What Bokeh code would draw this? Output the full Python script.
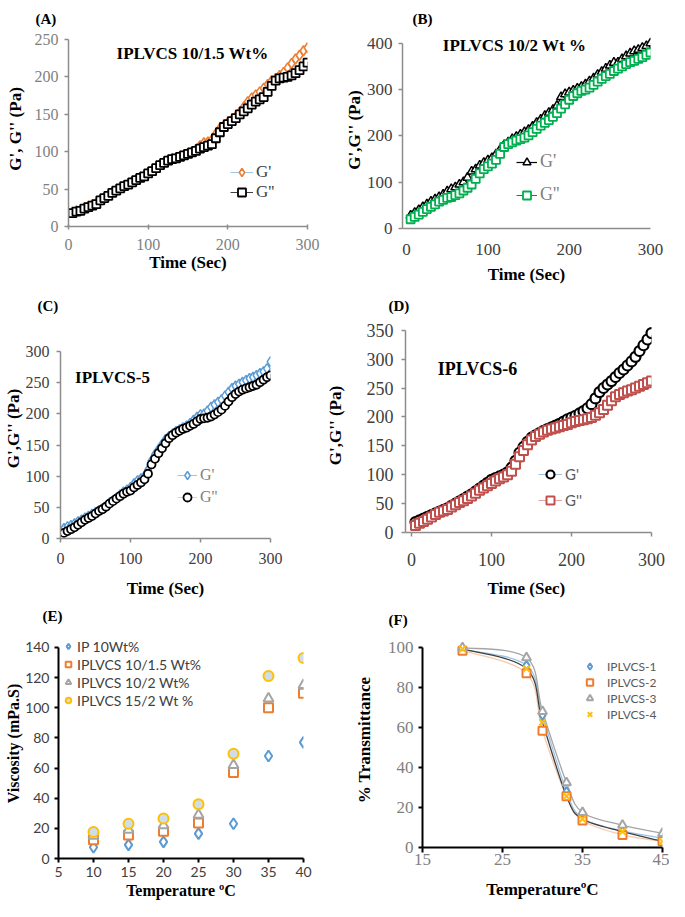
from bokeh.plotting import figure
from bokeh.models import Range1d, Label, Legend, LegendItem, FixedTicker
from bokeh.layouts import row, column
from bokeh.embed import file_html
from bokeh.resources import INLINE

SERIF = "Liberation Serif"
SANS = "Lato"

# ---------------- data ----------------
time_s = [5, 10, 15, 20, 25, 30, 35, 40, 45, 50, 55, 60, 65, 70, 75, 80, 85, 90, 95, 100,
          105, 110, 115, 120, 125, 130, 135, 140, 145, 150, 155, 160, 165, 170, 175, 180, 185, 190, 195, 200,
          205, 210, 215, 220, 225, 230, 235, 240, 245, 250, 255, 260, 265, 270, 275, 280, 285, 290, 295, 300]
time_ticks = [0, 100, 200, 300]

# (A) IPLVCS 10/1.5 Wt%
a_g1 = [19, 21, 22, 25, 27, 29, 31, 36, 39, 42, 46, 49, 52, 55, 57, 60, 63, 66, 68, 72,
        75, 79, 83, 86, 89, 91, 92, 94, 96, 98, 100, 103, 108, 112, 113, 116, 124, 131, 135, 139,
        142, 147, 153, 160, 167, 172, 176, 180, 185, 190, 195, 198, 202, 206, 212, 218, 224, 229, 235, 239]
a_g2 = [18, 20, 21, 24, 26, 28, 30, 35, 38, 41, 45, 48, 51, 54, 56, 59, 62, 65, 67, 71,
        74, 78, 82, 85, 88, 90, 91, 93, 95, 97, 99, 101, 104, 106, 108, 110, 118, 126, 133, 137,
        141, 145, 150, 154, 158, 163, 167, 170, 173, 180, 188, 195, 198, 199, 200, 202, 205, 209, 214, 219]
a_yticks = [0, 50, 100, 150, 200, 250]

# (B) IPLVCS 10/2 Wt %
b_g1 = [28, 34, 40, 46, 52, 58, 63, 68, 73, 80, 85, 89, 95, 100, 110, 123, 128, 136, 142, 147,
        152, 160, 170, 180, 186, 193, 198, 203, 208, 213, 220, 228, 235, 243, 250, 256, 265, 284, 290, 294,
        298, 302, 306, 311, 318, 324, 332, 338, 345, 352, 358, 358, 366, 372, 378, 383, 386, 390, 394, 400]
b_g2 = [20, 25, 30, 36, 42, 47, 52, 58, 62, 66, 68, 72, 76, 82, 88, 95, 107, 119, 128, 134,
        140, 148, 161, 176, 182, 186, 190, 193, 196, 201, 208, 215, 222, 228, 234, 241, 249, 259, 268, 278,
        286, 292, 297, 300, 304, 310, 317, 323, 329, 334, 340, 345, 350, 355, 359, 362, 366, 370, 375, 380]
b_yticks = [0, 100, 200, 300, 400]

# (C) IPLVCS-5
c_g1 = [16, 19, 21, 24, 27, 30, 33, 36, 39, 42, 45, 48, 52, 57, 61, 65, 70, 75, 78, 82,
        88, 93, 96, 100, 110, 125, 135, 143, 151, 159, 164, 168, 172, 175, 178, 181, 185, 190, 195, 199,
        200, 205, 211, 215, 219, 223, 229, 235, 241, 245, 248, 251, 254, 257, 259, 262, 265, 268, 273, 284]
c_g2 = [9, 12, 15, 18, 22, 26, 30, 33, 36, 40, 44, 47, 51, 56, 60, 64, 68, 72, 75, 77,
        82, 86, 90, 95, 104, 119, 128, 137, 145, 153, 161, 166, 170, 173, 176, 178, 181, 184, 188, 192,
        193, 194, 196, 199, 203, 207, 213, 220, 227, 232, 236, 239, 241, 243, 245, 247, 251, 255, 259, 262]
c_yticks = [0, 50, 100, 150, 200, 250, 300]

# (D) IPLVCS-6
d_g1 = [18, 21, 24, 27, 30, 33, 36, 39, 42, 46, 50, 54, 58, 62, 66, 71, 76, 81, 86, 91,
        94, 97, 100, 104, 112, 124, 138, 148, 157, 164, 168, 172, 176, 179, 182, 185, 188, 192, 196, 199,
        202, 206, 210, 215, 222, 232, 243, 250, 256, 262, 269, 276, 282, 289, 296, 304, 314, 324, 334, 345]
d_g2 = [12, 16, 19, 23, 27, 31, 35, 37, 40, 44, 48, 52, 55, 59, 63, 68, 73, 77, 81, 85,
        89, 93, 96, 100, 106, 118, 131, 142, 152, 160, 166, 170, 174, 177, 179, 181, 183, 185, 187, 190,
        192, 194, 195, 197, 199, 203, 207, 213, 220, 228, 235, 239, 242, 245, 247, 250, 253, 256, 259, 262]
d_yticks = [0, 50, 100, 150, 200, 250, 300, 350]

# (E) viscosity vs temperature
temp_e = [10, 15, 20, 25, 30, 35, 40]
visc_ip10 = [7.5, 9, 11, 16.5, 23, 68, 77]
visc_10_15 = [12.5, 15.5, 18, 23.5, 57, 100, 109.5]
visc_10_2 = [15, 19, 22, 29, 62, 106, 115]
visc_15_2 = [17.5, 23, 26.5, 36, 69.5, 121, 133]
e_xticks = [5, 10, 15, 20, 25, 30, 35, 40]
e_yticks = [0, 20, 40, 60, 80, 100, 120, 140]

# (F) transmittance vs temperature
temp_f = [20, 28, 30, 33, 35, 40, 45]
trans_1 = [99, 91, 66, 28, 14.6, 8.3, 4.7]
trans_2 = [98.3, 87, 58.3, 25.6, 13.5, 6.3, 3.1]
trans_3 = [99.8, 94.8, 68, 32.4, 17.5, 11.2, 7.1]
trans_4 = [99.2, 89.3, 62.6, 25.6, 14.2, 7.9, 3.1]
f_xticks = [15, 25, 35, 45]
f_yticks = [0, 20, 40, 60, 80, 100]


# ---------------- helpers ----------------
def make_panel(box, frame, xr, yr, tag, tag_offset, tag_standoff=10):
    x0, y0, x1, y1 = box
    l, t, r, b = frame
    p = figure(width=x1 - x0, height=y1 - y0, x_range=Range1d(*xr), y_range=Range1d(*yr),
               output_backend="svg", toolbar_location=None, title=tag,
               min_border_left=l - x0, min_border_right=x1 - r,
               min_border_top=t - y0, min_border_bottom=y1 - b)
    p.frame_align = False
    p.outline_line_color = None
    p.grid.visible = False
    p.background_fill_color = "white"
    p.border_fill_color = "white"
    p.title.text_font = SERIF
    p.title.text_font_size = "15px"
    p.title.text_font_style = "bold"
    p.title.text_color = "black"
    p.title.align = "left"
    p.title.offset = tag_offset
    p.title.standoff = tag_standoff

    def at(px, py):
        return (xr[0] + (px - l) / (r - l) * (xr[1] - xr[0]),
                yr[0] + (b - py) / (b - t) * (yr[1] - yr[0]))
    return p, at


def style_axis(ax, ticks, label, tick_font, tick_size, tick_color, axis_color, axis_width,
               label_size, tick_out, tick_label_standoff, label_standoff, tick_in=0, bounds=None):
    ax.ticker = FixedTicker(ticks=ticks)
    ax.axis_label = label
    ax.axis_label_text_font = SERIF
    ax.axis_label_text_font_style = "bold"
    ax.axis_label_text_font_size = label_size
    ax.axis_label_text_color = "black"
    ax.axis_label_standoff = label_standoff
    ax.major_label_text_font = tick_font
    ax.major_label_text_font_size = tick_size
    ax.major_label_text_color = tick_color
    ax.major_label_standoff = tick_label_standoff
    ax.axis_line_color = axis_color
    ax.axis_line_width = axis_width
    ax.major_tick_line_color = axis_color
    ax.major_tick_line_width = axis_width
    ax.major_tick_out = tick_out
    ax.major_tick_in = tick_in
    ax.minor_tick_line_color = None
    if bounds is not None:
        ax.bounds = bounds


def put_text(p, xy, text, size, color="black"):
    p.add_layout(Label(x=xy[0], y=xy[1], text=text, text_font=SERIF, text_font_size=size,
                       text_font_style="bold", text_align="center", text_baseline="middle",
                       text_color=color))


def add_legend(p, items, loc, font, size, color, glyph_w, item_h, spacing, standoff=3):
    leg = Legend(items=[LegendItem(label=lab, renderers=rs) for lab, rs in items],
                 location=loc, border_line_color=None, background_fill_alpha=0,
                 padding=0, margin=0, spacing=spacing, label_standoff=standoff,
                 glyph_width=glyph_w, glyph_height=item_h, label_height=item_h,
                 label_text_font=font, label_text_font_size=size, label_text_color=color)
    p.add_layout(leg)


def bezier_parts(xs, ys):
    n = len(xs)
    out = dict(x0=[], y0=[], x1=[], y1=[], cx0=[], cy0=[], cx1=[], cy1=[])
    for i in range(n - 1):
        xp, yp = (xs[i - 1], ys[i - 1]) if i > 0 else (xs[i], ys[i])
        xn, yn = (xs[i + 2], ys[i + 2]) if i + 2 < n else (xs[i + 1], ys[i + 1])
        out["x0"].append(xs[i]); out["y0"].append(ys[i])
        out["x1"].append(xs[i + 1]); out["y1"].append(ys[i + 1])
        out["cx0"].append(xs[i] + (xs[i + 1] - xp) / 6.0)
        out["cy0"].append(ys[i] + (ys[i + 1] - yp) / 6.0)
        out["cx1"].append(xs[i + 1] - (xn - xs[i]) / 6.0)
        out["cy1"].append(ys[i + 1] - (yn - ys[i]) / 6.0)
    return out


ORANGE = "#ED7D31"
BLUE = "#5B9BD5"
GRAY = "#A5A5A5"
GOLD = "#FFC000"
GREEN = "#00B050"
RED = "#C0504D"
AXG = "#8C8C8C"

# ---------------- (A) ----------------
pa, at_a = make_panel((0, 0, 340, 286), (68, 31, 307, 226), (0, 300), (0, 260.7), "(A)", -33)
style_axis(pa.xaxis[0], time_ticks, "Time (Sec)", SERIF, "16px", "#7F7F7F", AXG, 1.5, "17px", 3, 9, 0, tick_in=2)
style_axis(pa.yaxis[0], a_yticks, "G', G'' (Pa)", SERIF, "16px", "#7F7F7F", AXG, 1.5, "17px", 4, 6, 7, bounds=(0, 250))
la1 = pa.line(time_s, a_g1, line_color="#9DC3E6", line_width=1)
sa1 = pa.scatter(time_s, a_g1, marker="diamond", size=10, line_color=ORANGE, line_width=1.6, fill_color="white")
la2 = pa.line(time_s, a_g2, line_color="#404040", line_width=1)
sa2 = pa.scatter(time_s, a_g2, marker="square", size=8, line_color="black", line_width=1.8, fill_color="white")
add_legend(pa, [("G'", [la1, sa1]), ("G''", [la2, sa2])], (162, 24), SERIF, "17px", "#404040", 23, 20, 0)
put_text(pa, at_a(192, 53), "IPLVCS 10/1.5 Wt%", "17px")

# ---------------- (B) ----------------
pb, at_b = make_panel((340, 0, 669, 286), (402, 31, 650, 233), (-5, 300), (0, 425.3), "(B)", 10)
style_axis(pb.xaxis[0], time_ticks, "Time (Sec)", SERIF, "17px", "#404040", AXG, 1.5, "17px", 0, 15, 7)
style_axis(pb.yaxis[0], b_yticks, "G',G'' (Pa)", SERIF, "17px", "#404040", AXG, 1.5, "17px", 4, 6, 0, bounds=(0, 400))
lb1 = pb.line(time_s, b_g1, line_color="black", line_width=1.2)
sb1 = pb.scatter(time_s, b_g1, marker="triangle", size=9, line_color="black", line_width=1.5, fill_color="white")
lb2 = pb.line(time_s, b_g2, line_color="#595959", line_width=1)
sb2 = pb.scatter(time_s, b_g2, marker="square", size=8, line_color=GREEN, line_width=1.8, fill_color="white")
add_legend(pb, [("G'", [lb1, sb1]), ("G''", [lb2, sb2])], (114, 23), SERIF, "18px", "#7F7F7F", 21, 20, 12)
put_text(pb, at_b(514, 45), "IPLVCS 10/2 Wt %", "17px")

# ---------------- (C) ----------------
pc, at_c = make_panel((0, 286, 322, 600), (60, 318, 270, 543), (0, 300), (0, 353.4), "(C)", -23)
style_axis(pc.xaxis[0], time_ticks, "Time (Sec)", SERIF, "16px", "#404040", AXG, 1.5, "17px", 4, 10, 12)
style_axis(pc.yaxis[0], c_yticks, "G',G'' (Pa)", SERIF, "16px", "#404040", AXG, 1.5, "17px", 4, 7, 0, bounds=(0, 300))
lc1 = pc.line(time_s, c_g1, line_color="#9DC3E6", line_width=1)
sc1 = pc.scatter(time_s, c_g1, marker="diamond", size=10, line_color=BLUE, line_width=1.5, fill_color="white")
lc2 = pc.line(time_s, c_g2, line_color="#F8CBAD", line_width=1)
sc2 = pc.scatter(time_s, c_g2, marker="circle", size=8, line_color="black", line_width=1.8, fill_color="white")
add_legend(pc, [("G'", [lc1, sc1]), ("G''", [lc2, sc2])], (117, 31), SERIF, "16px", "#7F7F7F", 20, 20, 2)
put_text(pc, at_c(112, 378), "IPLVCS-5", "17px")

# ---------------- (D) ----------------
pd_, at_d = make_panel((322, 286, 669, 600), (405, 318, 651, 537), (-7.5, 300), (0, 370.3), "(D)", -17)
style_axis(pd_.xaxis[0], time_ticks, "Time  (Sec)", SERIF, "18px", "#404040", AXG, 1.5, "17px", 4, 16, 10)
style_axis(pd_.yaxis[0], d_yticks, "G',G'' (Pa)", SERIF, "18px", "#404040", AXG, 1.5, "17px", 4, 8, 19, bounds=(0, 350))
ld1 = pd_.line(time_s, d_g1, line_color="#9DC3E6", line_width=1)
sd1 = pd_.scatter(time_s, d_g1, marker="circle", size=10, line_color="black", line_width=2.2, fill_color="white")
ld2 = pd_.line(time_s, d_g2, line_color="#E6A5A4", line_width=1)
sd2 = pd_.scatter(time_s, d_g2, marker="square", size=9, line_color=RED, line_width=2, fill_color="white")
add_legend(pd_, [("G'", [ld1, sd1]), ("G''", [ld2, sd2])], (133, 22), SANS, "15px", "#595959", 24, 20, 6)
put_text(pd_, at_d(477, 370), "IPLVCS-6", "18px")

# ---------------- (E) ----------------
pe, at_e = make_panel((0, 600, 340, 901), (58, 628, 303, 860), (5, 40), (0, 152.5), "(E)", -16)
style_axis(pe.xaxis[0], e_xticks, "Temperature \u00baC", SANS, "14px", "#404040", "black", 2, "16px", 4, 4, 2)
style_axis(pe.yaxis[0], e_yticks, "Viscosity (mPa.S)", SANS, "14px", "#404040", "black", 2, "16px", 4, 5, 0, bounds=(0, 140))
se1 = pe.scatter(temp_e, visc_ip10, marker="diamond", size=11, line_color=BLUE, line_width=2, fill_color="white")
se2 = pe.scatter(temp_e, visc_10_15, marker="square", size=9, line_color=ORANGE, line_width=2, fill_color="white")
se3 = pe.scatter(temp_e, visc_10_2, marker="triangle", size=10, line_color=GRAY, line_width=2, fill_color="white")
se4 = pe.scatter(temp_e, visc_15_2, marker="circle", size=10, line_color=GOLD, line_width=2, fill_color="#CFDDEB")
add_legend(pe, [("IP 10Wt%", [se1]), ("IPLVCS 10/1.5 Wt%", [se2]), ("IPLVCS 10/2 Wt%", [se3]),
                ("IPLVCS 15/2 Wt %", [se4])], (3, 149), SANS, "14px", "#404040", 14, 18, 0, 2)

# ---------------- (F) ----------------
pf, at_f = make_panel((340, 600, 669, 901), (422, 632, 662, 850), (15, 45), (0, 107.4), "(F)", -34)
style_axis(pf.xaxis[0], f_xticks, "Temperature\u00baC", SERIF, "17px", "#7F7F7F", "black", 2, "17px", 5, 1, 12)
style_axis(pf.yaxis[0], f_yticks, "% Transmittance", SERIF, "17px", "#7F7F7F", "black", 2, "17px", 4, 5, 11, bounds=(0, 100))
series_f = [(trans_1, "#9DC3E6", BLUE, "diamond", 9, "IPLVCS-1"),
            (trans_2, "#F8CBAD", ORANGE, "square", 8, "IPLVCS-2"),
            (trans_3, "#A5A5A5", GRAY, "triangle", 9, "IPLVCS-3"),
            (trans_4, "#404040", GOLD, "x", 9, "IPLVCS-4")]
for vals, lcol, mcol, mk, sz, lab in series_f:
    bz = bezier_parts(temp_f, vals)
    pf.bezier(x0=bz["x0"], y0=bz["y0"], x1=bz["x1"], y1=bz["y1"], cx0=bz["cx0"], cy0=bz["cy0"],
              cx1=bz["cx1"], cy1=bz["cy1"], line_color=lcol, line_width=1.3)
leg_f = []
for vals, lcol, mcol, mk, sz, lab in series_f:
    ss = pf.scatter(temp_f, vals, marker=mk, size=sz, line_color=mcol, line_width=2, fill_color="white")
    lr = pf.line([], [], line_color=lcol, line_width=1.3)
    leg_f.append((lab, [lr, ss]))
add_legend(pf, leg_f, (153, 125), SANS, "12px", "#595959", 29, 16, 0)

layout = column(row(pa, pb), row(pc, pd_), row(pe, pf))
open("out.html", "w").write(file_html(layout, INLINE))
